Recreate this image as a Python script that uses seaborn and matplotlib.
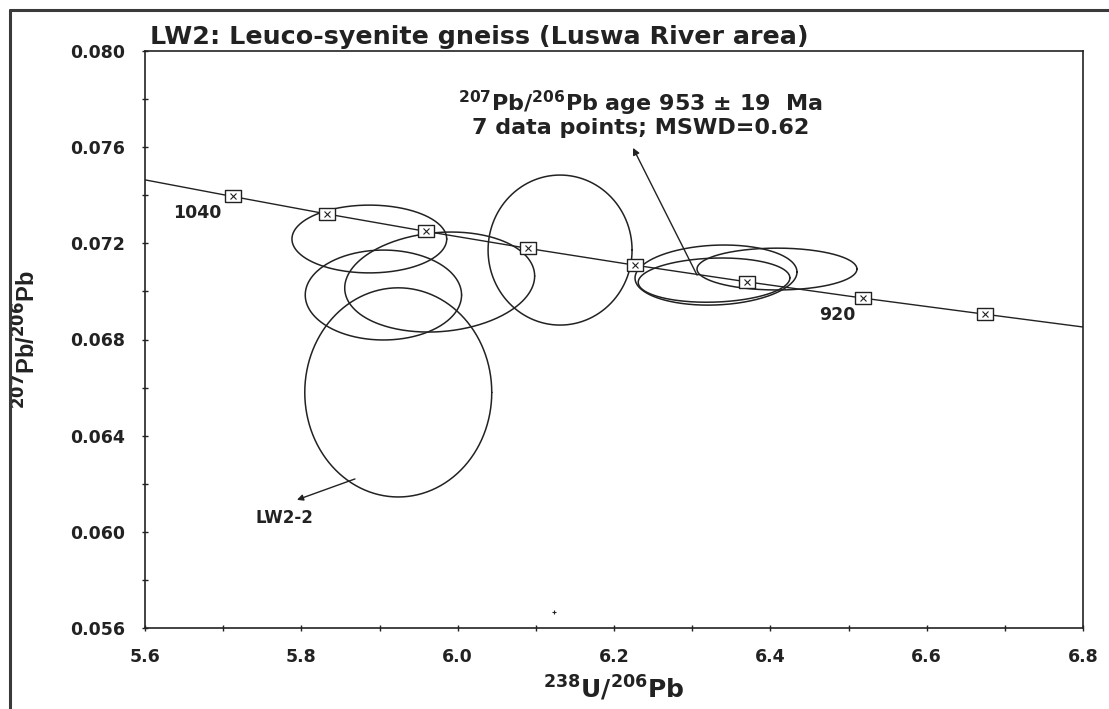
import numpy as np
import matplotlib
matplotlib.use("Agg")
import matplotlib.pyplot as plt
from matplotlib.lines import Line2D
from matplotlib.path import Path
import seaborn as sns

# Concordia tick marks (age in Ma) and their ratios
conc_age = [1040, 1020, 1000, 980, 960, 940, 920, 900]
conc_u238 = [5.712, 5.833, 5.959, 6.090, 6.227, 6.370, 6.519, 6.675]
conc_pb207 = [0.07395, 0.07322, 0.07250, 0.07179, 0.07109, 0.07040, 0.06972, 0.06905]

# Concordia curve across the plotted range
curve_u238 = [5.60, 5.712, 5.833, 5.959, 6.090, 6.227, 6.370, 6.519, 6.675, 6.80]
curve_pb207 = [0.07464, 0.07395, 0.07322, 0.07250, 0.07179, 0.07109, 0.07040,
               0.06972, 0.06905, 0.06852]

# Zircon analyses: centre, 2-sigma half-widths and error correlation
spot_names = ["LW2-1", "LW2-3", "LW2-4", "LW2-2", "LW2-5", "LW2-6", "LW2-7", "LW2-8"]
spot_x = [5.887, 5.905, 5.977, 5.924, 6.131, 6.3305, 6.328, 6.4085]
spot_y = [0.07218, 0.06985, 0.07039, 0.06580, 0.07172, 0.07068, 0.07047, 0.07093]
spot_sx = [0.099, 0.100, 0.1215, 0.1196, 0.0921, 0.1036, 0.097, 0.1023]
spot_sy = [0.00141, 0.00187, 0.00208, 0.00435, 0.00312, 0.00125, 0.00092, 0.00087]
spot_rho = [0.0, 0.0, 0.12, 0.0, 0.0, 0.1, 0.1, 0.0]

x_ticks = [5.6, 5.8, 6.0, 6.2, 6.4, 6.6, 6.8]
y_ticks = [0.056, 0.060, 0.064, 0.068, 0.072, 0.076, 0.080]

title = "LW2: Leuco-syenite gneiss (Luswa River area)"
age_text = "$\\mathbf{^{207}Pb/^{206}Pb}$ age 953 ± 19  Ma\n7 data points; MSWD=0.62"

sns.set_theme(style="white")
plt.rcParams["font.family"] = ["DejaVu Sans"]
plt.rcParams["font.weight"] = "bold"
plt.rcParams["mathtext.default"] = "bf"

ink = "#222222"

fig = plt.figure(figsize=(11.09, 7.09), dpi=100)
fig.patch.set_facecolor("white")
ax = fig.add_axes([145 / 1109, 81 / 709, 938 / 1109, 577 / 709])
ax.set_facecolor("white")

# concordia
sns.lineplot(x=curve_u238, y=curve_pb207, sort=False, estimator=None,
             color=ink, lw=1.0, ax=ax)
box = Path([(-1.35, -1), (1.35, -1), (1.35, 1), (-1.35, 1), (-1.35, -1)])
ax.plot(conc_u238, conc_pb207, ls="none", marker=box, ms=11,
        mfc="white", mec=ink, mew=1.0, zorder=5)
ax.plot(conc_u238, conc_pb207, ls="none", marker="x", ms=4,
        mec=ink, mew=0.8, zorder=6)

# error ellipses
t = np.linspace(0, 2 * np.pi, 361)
for cx, cy, sx, sy, r in zip(spot_x, spot_y, spot_sx, spot_sy, spot_rho):
    ex = cx + sx * np.cos(t)
    ey = cy + sy * (r * np.cos(t) + np.sqrt(1 - r * r) * np.sin(t))
    sns.lineplot(x=ex, y=ey, sort=False, estimator=None, color=ink, lw=1.1, ax=ax)

# stray point
ax.plot([6.1232], [0.05667], ls="none", marker="+", ms=3, mec=ink, mew=0.8)

# labels on the concordia
ax.text(5.6665, 0.07326, "1040", ha="center", va="center", fontsize=12.5,
        color=ink)
ax.text(6.4853, 0.06902, "920", ha="center", va="center", fontsize=12.5,
        color=ink)

# age annotation with arrow
ax.text(6.2345, 0.07740, age_text, ha="center", va="center", fontsize=16,
        linespacing=1.0, color=ink)
ax.annotate("", xy=(6.2243, 0.07597), xytext=(6.3062, 0.07068),
            arrowprops=dict(arrowstyle="-|>", color=ink, lw=1.0,
                            mutation_scale=10, shrinkA=0, shrinkB=0))

# LW2-2 callout
ax.annotate("", xy=(5.7944, 0.06133), xytext=(5.8686, 0.06220),
            arrowprops=dict(arrowstyle="-|>", color=ink, lw=1.0,
                            mutation_scale=9, shrinkA=0, shrinkB=0))
ax.text(5.779, 0.06058, "LW2-2", ha="center", va="center", fontsize=12,
        color=ink)

ax.set_xlim(5.6, 6.8)
ax.set_ylim(0.056, 0.080)
ax.set_xticks(x_ticks)
ax.set_xticklabels([f"{v:.1f}" for v in x_ticks])
ax.set_yticks(y_ticks)
ax.set_yticklabels([f"{v:.3f}" for v in y_ticks])
ax.set_xticks(np.arange(5.7, 6.8, 0.2), minor=True)
ax.set_yticks([0.058, 0.062, 0.066, 0.070, 0.074, 0.078], minor=True)
ax.tick_params(which="both", direction="inout", length=5, width=1.0,
               color=ink, bottom=True, left=True, top=False, right=False)
ax.tick_params(axis="both", which="major", labelsize=12.5, labelcolor=ink,
               pad=12)
for lab in ax.get_xticklabels() + ax.get_yticklabels():
    lab.set_fontweight("bold")
for s in ax.spines.values():
    s.set_color(ink)
    s.set_linewidth(1.2)

ax.set_xlabel("$^{238}$U/$^{206}$Pb", fontsize=18, color=ink, fontweight="bold")
ax.xaxis.set_label_coords(0.5, -0.080)
ax.set_ylabel("$^{207}$Pb/$^{206}$Pb", fontsize=17, color=ink,
              fontweight="bold", family="Liberation Sans")
ax.yaxis.set_label_coords(-0.111, 0.5)

ax.text(0.0053, 1.0121, title, transform=ax.transAxes, ha="left",
        va="baseline", fontsize=18.3, color=ink)

# page frame along the top and left edges
fig.add_artist(Line2D([10 / 1109, 10 / 1109], [0, 1 - 10 / 709],
                      transform=fig.transFigure, color="#3a3a3a", lw=2.2))
fig.add_artist(Line2D([10 / 1109, 1], [1 - 10 / 709, 1 - 10 / 709],
                      transform=fig.transFigure, color="#3a3a3a", lw=2.2))

fig.savefig("out.png", dpi=100, facecolor="white")
